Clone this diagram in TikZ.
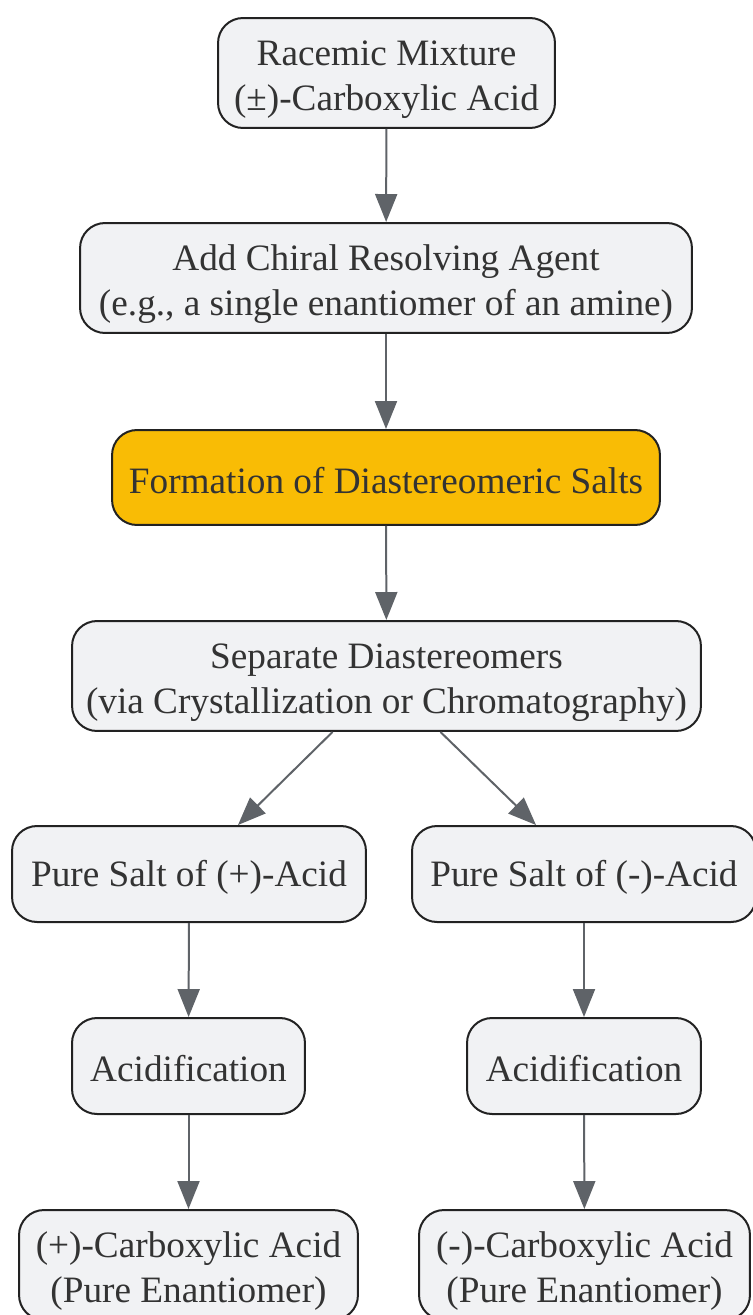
\documentclass[tikz,border=0pt]{standalone}
\usepackage{fontspec}
\setmainfont{Liberation Serif}
\usetikzlibrary{arrows.meta}
\definecolor{boxfill}{HTML}{F1F2F4}
\definecolor{boxline}{HTML}{222222}
\definecolor{saltfill}{HTML}{F9BC05}
\definecolor{arrowgray}{HTML}{5F6368}
\definecolor{txt}{HTML}{333333}

\begin{document}
\begin{tikzpicture}[x=0.02cm,y=-0.02cm,
        lift/.style={execute at begin node={\rule{0pt}{#1}}},
        stepbox/.style={draw=boxline,fill=boxfill,line width=0.04cm,rounded corners=0.5cm,
            align=center,text=txt,inner sep=0pt,font=\fontsize{21.2}{25.5}\selectfont,lift=18.2pt},
        twoline/.style={stepbox,minimum height=2.2cm,lift=47pt},
        flow/.style={draw=arrowgray,line width=0.04cm,
            -{Triangle[length=0.56cm,width=0.44cm,fill=arrowgray]}}]
        \useasboundingbox (0,0) rectangle (752,1315);
        % main column
        \node[twoline,minimum width=6.74cm] (racemic) at (386.5,73) {Racemic Mixture\\(±)-Carboxylic Acid};
        \node[twoline,minimum width=12.24cm] (agent) at (386,278) {Add Chiral Resolving Agent\\(e.g., a single enantiomer of an amine)};
        \node[stepbox,fill=saltfill,minimum width=10.96cm,minimum height=1.9cm] (salts) at (386,477.5) {Formation of Diastereomeric Salts};
        \node[twoline,minimum width=12.58cm] (separate) at (386.5,676) {Separate Diastereomers\\(via Crystallization or Chromatography)};
        % left branch
        \node[stepbox,minimum width=7.08cm,minimum height=1.92cm] (saltplus) at (189,874) {Pure Salt of (+)-Acid};
        \node[stepbox,minimum width=4.66cm,minimum height=1.92cm] (acidleft) at (188.5,1066) {Acidification};
        \node[twoline,minimum width=6.78cm] (plusacid) at (188.5,1265) {(+)-Carboxylic Acid\\(Pure Enantiomer)};
        % right branch
        \node[stepbox,minimum width=6.88cm,minimum height=1.92cm] (saltminus) at (584,874) {Pure Salt of (-)-Acid};
        \node[stepbox,minimum width=4.68cm,minimum height=1.92cm] (acidright) at (584,1066) {Acidification};
        \node[twoline,minimum width=6.62cm] (minusacid) at (584.5,1265) {(-)-Carboxylic Acid\\(Pure Enantiomer)};
        % arrows
        \draw[flow] (racemic) -- (agent);
        \draw[flow] (agent) -- (salts);
        \draw[flow] (salts) -- (separate);
        \draw[flow] ([xshift=-1.08cm]separate.south) -- ([xshift=0.98cm]saltplus.north);
        \draw[flow] ([xshift=1.08cm]separate.south) -- ([xshift=-0.96cm]saltminus.north);
        \draw[flow] (saltplus) -- (acidleft);
        \draw[flow] (acidleft) -- (plusacid);
        \draw[flow] (saltminus) -- (acidright);
        \draw[flow] (acidright) -- (minusacid);
    \end{tikzpicture}
\end{document}
